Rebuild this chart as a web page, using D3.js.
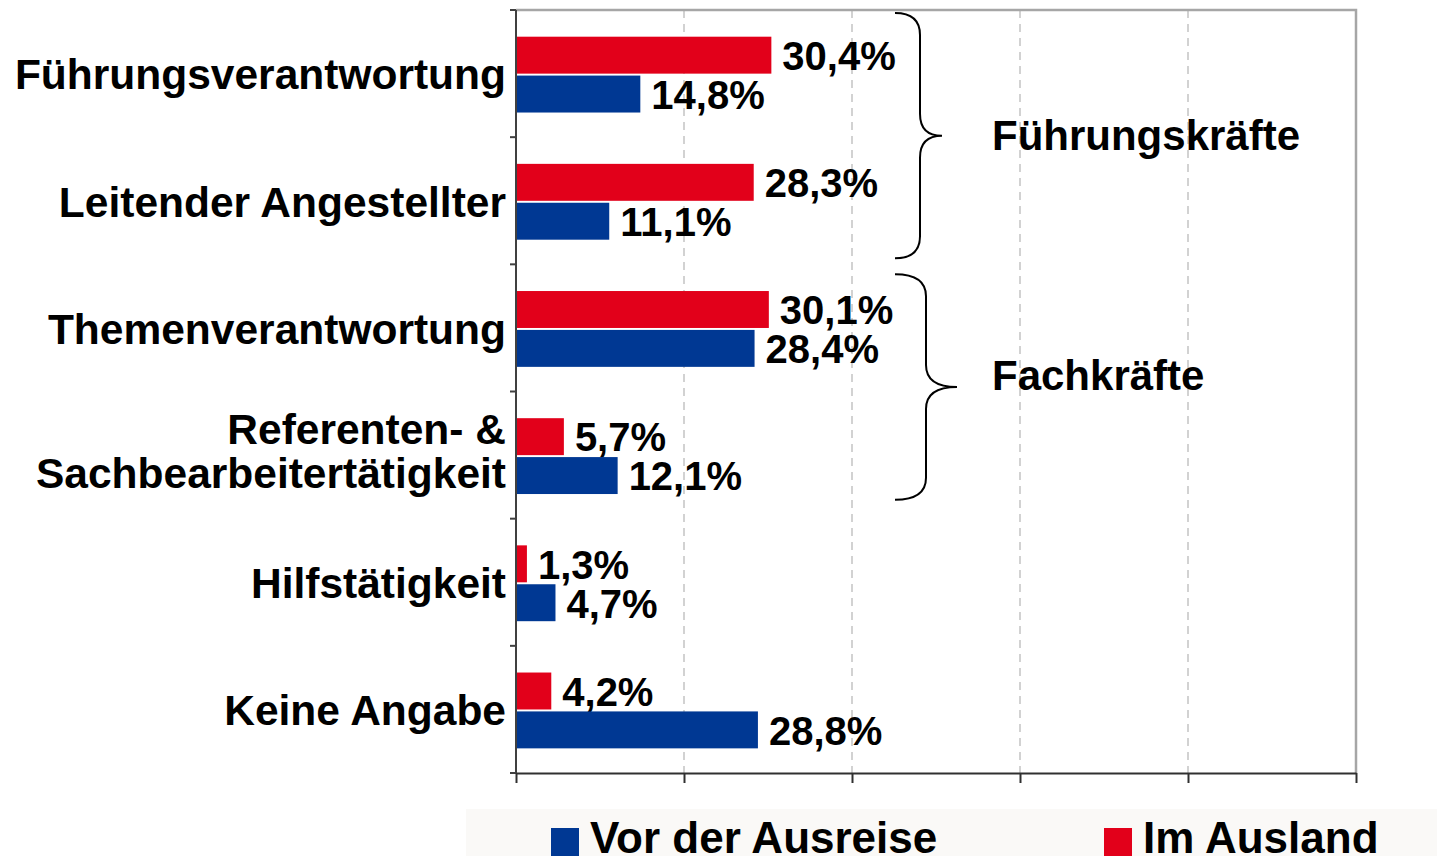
<!DOCTYPE html>
<html>
<head>
<meta charset="utf-8">
<script src="https://cdn.jsdelivr.net/npm/d3@7"></script>
<style>
  body { margin: 0; background: #fff; }
  svg { display: block; font-family: "Liberation Sans", Arial, sans-serif; font-weight: bold; }
</style>
</head>
<body>
<div class="graph"></div>
<script>
var categories = ["Führungsverantwortung", "Leitender Angestellter", "Themenverantwortung",
                  "Referenten- & Sachbearbeitertätigkeit", "Hilfstätigkeit", "Keine Angabe"];
var labelLines = [["Führungsverantwortung"], ["Leitender Angestellter"], ["Themenverantwortung"],
                  ["Referenten- &", "Sachbearbeitertätigkeit"], ["Hilfstätigkeit"], ["Keine Angabe"]];
var imAusland = [30.4, 28.3, 30.1, 5.7, 1.3, 4.2];
var vorAusreise = [14.8, 11.1, 28.4, 12.1, 4.7, 28.8];
var seriesNames = ["Vor der Ausreise", "Im Ausland"];
var xTicks = [0, 20, 40, 60, 80, 100];
var groups = [
  {name: "Führungskräfte", from: 0, to: 1},
  {name: "Fachkräfte", from: 2, to: 3}
];

var width = 1437;
var height = 856;
var red = "#e2001a";
var blue = "#003893";

var svg = d3.select(".graph").append("svg")
  .attr("width", width)
  .attr("height", height);

var x = d3.scaleLinear().domain([0, 100]).range([516, 1356]);
var y = d3.scaleBand().domain(categories).range([10, 773]);
var sub = d3.scaleBand().domain(["aus", "vor"]).range([0, y.bandwidth()])
  .paddingInner(0.05).paddingOuter(0.66).align(0.52);

// gridlines
svg.append("g").selectAll("line")
  .data(xTicks.slice(1, -1))
  .enter().append("line")
  .attr("x1", d => x(d)).attr("x2", d => x(d))
  .attr("y1", 10).attr("y2", 773)
  .attr("stroke", "#c4c4c4")
  .attr("stroke-width", 1.5)
  .attr("stroke-dasharray", "8,6");

// plot border top/right
svg.append("path")
  .attr("d", "M" + x(0) + "," + y.range()[0] + "H" + x(100) + "V" + y.range()[1])
  .attr("fill", "none")
  .attr("stroke", "#a6a6a6")
  .attr("stroke-width", 2.5);

// bars
var rows = categories.map((c, i) => ({cat: c, aus: imAusland[i], vor: vorAusreise[i]}));

var rowG = svg.append("g").selectAll("g")
  .data(rows)
  .enter().append("g")
  .attr("transform", d => "translate(0," + y(d.cat) + ")");

[["aus", red], ["vor", blue]].forEach(function (s) {
  var key = s[0];
  rowG.append("rect")
    .attr("x", x(0))
    .attr("y", sub(key))
    .attr("width", d => x(d[key]) - x(0))
    .attr("height", sub.bandwidth())
    .attr("fill", s[1]);

  rowG.append("text")
    .attr("x", d => x(d[key]) + 11)
    .attr("y", sub(key) + sub.bandwidth() / 2)
    .attr("dy", "0.37em")
    .attr("font-size", 40)
    .attr("fill", "#000")
    .text(d => d3.format(".1f")(d[key]).replace(".", ",") + "%");
});

// y axis
svg.append("line")
  .attr("x1", x(0)).attr("x2", x(0))
  .attr("y1", y.range()[0]).attr("y2", y.range()[1])
  .attr("stroke", "#404040").attr("stroke-width", 2);

var yBounds = categories.map(c => y(c)).concat([y.range()[1]]);
svg.append("g").selectAll("line")
  .data(yBounds)
  .enter().append("line")
  .attr("x1", x(0) - 6).attr("x2", x(0))
  .attr("y1", d => d).attr("y2", d => d)
  .attr("stroke", "#404040").attr("stroke-width", 2);

// x axis
var xAxisGroup = svg.append("g")
  .attr("transform", "translate(0," + y.range()[1] + ")");
var xAxis = d3.axisBottom(x).tickValues(xTicks).tickSize(10).tickSizeOuter(0).tickFormat("");
xAxis(xAxisGroup);
xAxisGroup.selectAll("path, line").attr("stroke", "#303030").attr("stroke-width", 2);

// category labels
var catText = svg.append("g").selectAll("text")
  .data(labelLines)
  .enter().append("text")
  .attr("text-anchor", "end")
  .attr("font-size", 42.5)
  .attr("fill", "#000")
  .attr("transform", (d, i) => "translate(506," + (y(categories[i]) + y.bandwidth() / 2 + 1) + ")");

catText.selectAll("tspan")
  .data(d => d.map((t, j) => ({t: t, j: j, n: d.length})))
  .enter().append("tspan")
  .attr("x", 0)
  .attr("y", d => d.n > 1 ? (d.j - 0.5) * 44 - 5 : 0)
  .attr("dy", "0.35em")
  .text(d => d.t);

// braces
var braceCfg = [
  {x0: 895, xs: 920, xt: 942, top: 3, bot: 6, labelDy: 14},
  {x0: 895, xs: 926, xt: 957, top: 10, bot: 19, labelDy: 3}
];
var r = 22;
groups.forEach(function (g, i) {
  var c = braceCfg[i];
  var top = y(categories[g.from]) + c.top;
  var bot = y(categories[g.to]) + y.bandwidth() - c.bot;
  var tip = (top + bot) / 2;
  var p = d3.path();
  p.moveTo(c.x0, top);
  p.quadraticCurveTo(c.xs, top, c.xs, top + r);
  p.lineTo(c.xs, tip - r);
  p.quadraticCurveTo(c.xs, tip, c.xt, tip);
  p.quadraticCurveTo(c.xs, tip, c.xs, tip + r);
  p.lineTo(c.xs, bot - r);
  p.quadraticCurveTo(c.xs, bot, c.x0, bot);
  svg.append("path")
    .attr("d", p.toString())
    .attr("fill", "none")
    .attr("stroke", "#000")
    .attr("stroke-width", 2);

  svg.append("text")
    .attr("x", 992)
    .attr("y", tip + c.labelDy)
    .attr("font-size", 42)
    .attr("fill", "#000")
    .text(g.name);
});

// legend
var legend = svg.append("g");
legend.append("rect")
  .attr("x", 466).attr("y", 809)
  .attr("width", width - 466).attr("height", height - 809)
  .attr("fill", "#faf9f7");

var legendX = [551, 1104];
var legendColors = [blue, red];
var items = legend.selectAll("g.item")
  .data(seriesNames)
  .enter().append("g")
  .attr("class", "item")
  .attr("transform", (d, i) => "translate(" + legendX[i] + ",0)");
items.append("rect")
  .attr("x", 0).attr("y", 828)
  .attr("width", 28).attr("height", 30)
  .attr("fill", (d, i) => legendColors[i]);
items.append("text")
  .attr("x", 39).attr("y", 853)
  .attr("font-size", 44)
  .attr("fill", "#000")
  .text(d => d);
</script>
</body>
</html>
